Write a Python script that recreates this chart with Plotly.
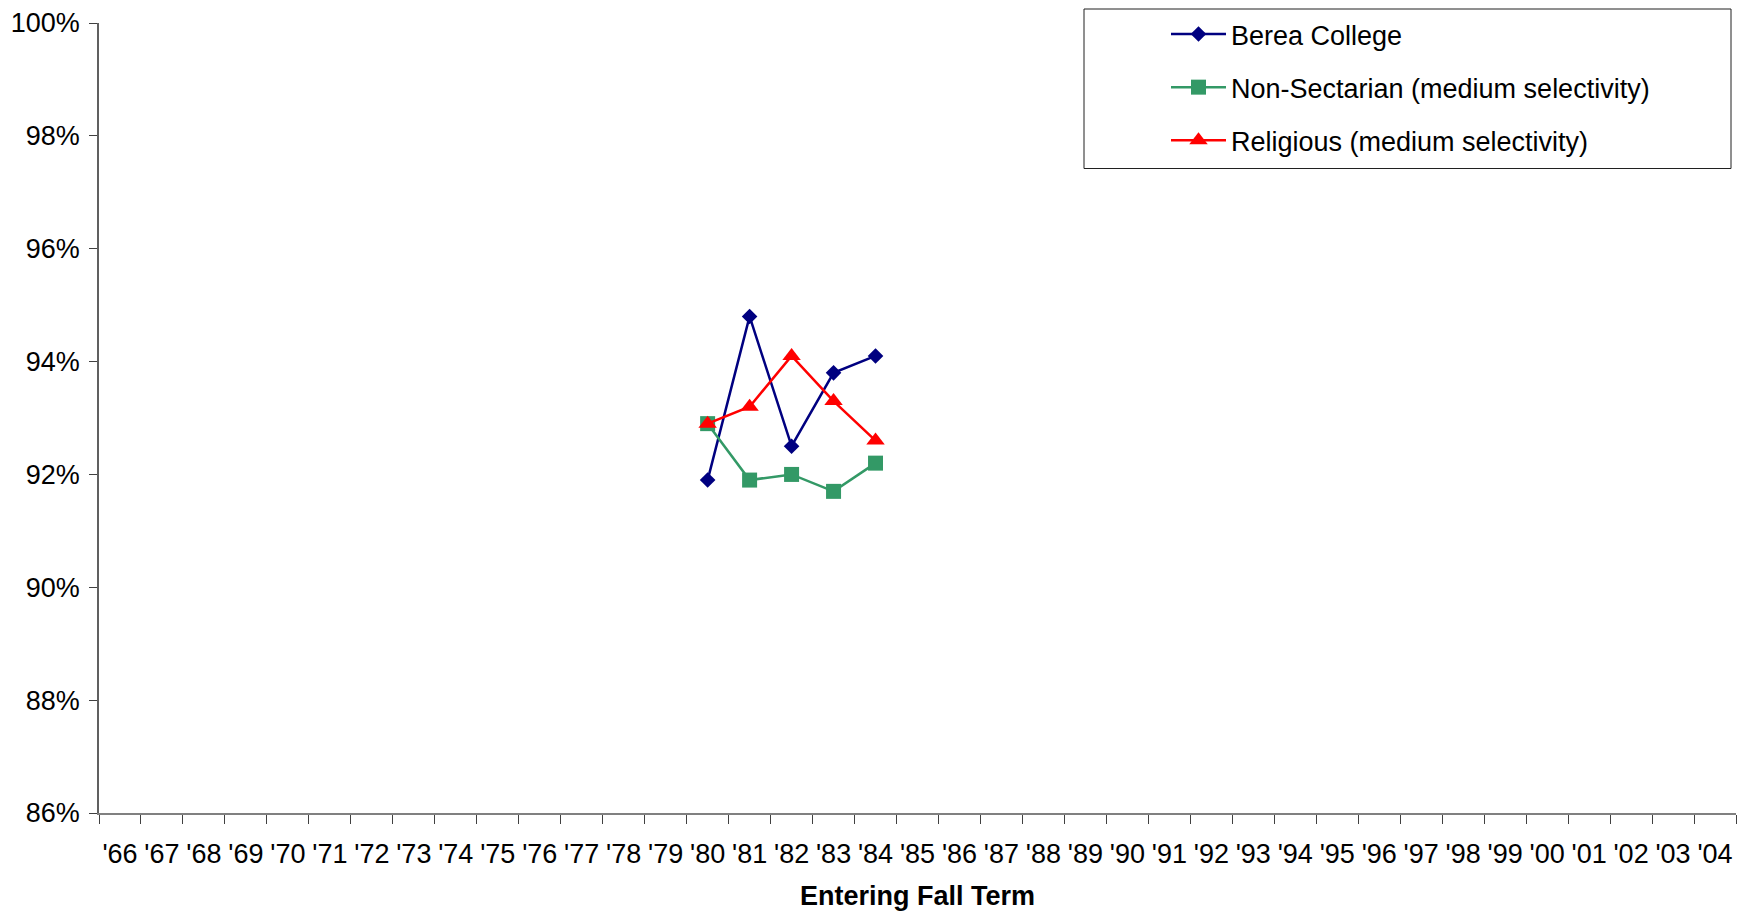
import plotly.graph_objects as go

categories = ["'66", "'67", "'68", "'69", "'70", "'71", "'72", "'73", "'74", "'75",
              "'76", "'77", "'78", "'79", "'80", "'81", "'82", "'83", "'84", "'85",
              "'86", "'87", "'88", "'89", "'90", "'91", "'92", "'93", "'94", "'95",
              "'96", "'97", "'98", "'99", "'00", "'01", "'02", "'03", "'04"]
data_years = ["'80", "'81", "'82", "'83", "'84"]
berea = [91.9, 94.8, 92.5, 93.8, 94.1]
non_sectarian = [92.9, 91.9, 92.0, 91.7, 92.2]
religious = [92.9, 93.2, 94.1, 93.3, 92.6]
y_ticks = [86, 88, 90, 92, 94, 96, 98, 100]

FONT = "Arial, Liberation Sans, sans-serif"
FS = 27

fig = go.Figure()
fig.add_trace(go.Scatter(x=data_years, y=berea, name="Berea College", mode="lines+markers",
                         line=dict(color="#000080", width=2.5),
                         marker=dict(symbol="diamond", size=12, color="#000080"),
                         legendgroup="a"))
fig.add_trace(go.Scatter(x=data_years, y=non_sectarian, name="Non-Sectarian (medium selectivity)",
                         mode="lines+markers", line=dict(color="#339966", width=2.5),
                         marker=dict(symbol="square", size=15, color="#339966"),
                         legendgroup="b"))
fig.add_trace(go.Scatter(x=data_years, y=religious, name="Religious (medium selectivity)",
                         mode="lines+markers", line=dict(color="#FF0000", width=2.5),
                         marker=dict(symbol="triangle-up", size=16, color="#FF0000"),
                         legendgroup="c"))

L, R, T, B = 99, 3, 23, 98
W, H = 1739, 911
pw = W - L - R
ph = H - T - B

def px_x(p):
    return (p - L) / pw

def px_y(p):
    return (H - B - p) / ph

fig.update_layout(
    width=W, height=H,
    margin=dict(l=L, r=R, t=T, b=B, autoexpand=False),
    paper_bgcolor="white", plot_bgcolor="white",
    font=dict(family=FONT, size=FS, color="black"),
    showlegend=True,
    legend=dict(x=1166 / W, y=1 - 10 / H, xref="container", yref="container",
                xanchor="left", yanchor="top",
                bgcolor="rgba(0,0,0,0)", borderwidth=0,
                font=dict(family=FONT, size=FS, color="black"),
                tracegroupgap=15, itemwidth=55),
    xaxis=dict(type="category", categoryorder="array", categoryarray=categories,
               range=[-0.5, len(categories) - 0.5], tickmode="array",
               tickvals=categories, ticktext=categories, tickson="boundaries",
               ticks="outside", ticklen=9, tickcolor="#404040", tickwidth=1,
               showline=True, linecolor="#808080", linewidth=2, showgrid=False,
               zeroline=False, ticklabelstandoff=16, tickangle=0, automargin=False,
               tickfont=dict(family=FONT, size=FS, color="black"),
               title=dict(text="<b>Entering Fall Term</b>", standoff=19,
                          font=dict(family=FONT, size=FS, color="black"))),
    yaxis=dict(range=[86, 100], tickmode="array", tickvals=y_ticks,
               ticktext=[f"{v}%" for v in y_ticks], automargin=False,
               ticks="outside", ticklen=8, tickcolor="#404040", tickwidth=1,
               showline=True, linecolor="#606060", linewidth=1.5, showgrid=False,
               zeroline=False, ticklabelstandoff=4,
               tickfont=dict(family=FONT, size=FS, color="black")),
    shapes=[dict(type="rect", xref="paper", yref="paper",
                 x0=px_x(1084), x1=px_x(1731), y0=px_y(168.5), y1=px_y(9),
                 line=dict(color="#202020", width=1), fillcolor="rgba(0,0,0,0)")],
)

fig.write_html("out.html", config={"displayModeBar": False},
               post_script="document.body.style.margin='0';document.body.style.overflow='hidden';")
